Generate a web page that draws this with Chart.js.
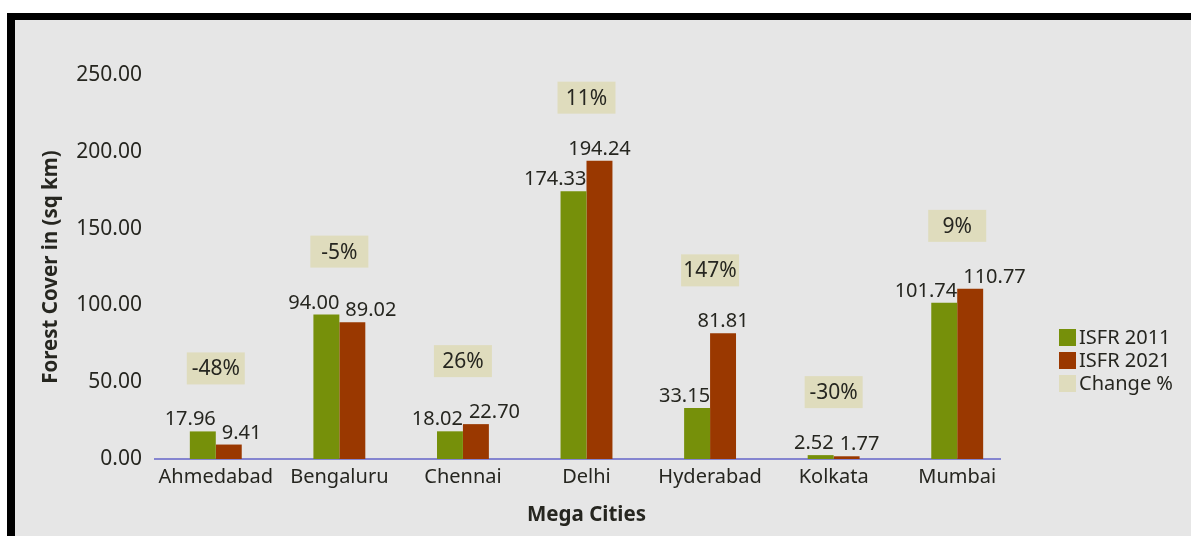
<!DOCTYPE html>
<html>
<head>
<meta charset="utf-8">
<script src="https://cdn.jsdelivr.net/npm/chart.js@4.4.1/dist/chart.umd.min.js"></script>
<style>
  html, body { margin: 0; padding: 0; background: #ffffff; }
  #frame {
    position: absolute; left: 7px; top: 13px;
    width: 1184px; height: 523px;
    border-left: 8px solid #000; border-top: 7px solid #000;
    background: #e6e6e6;
  }
  #wrap { position: absolute; left: 0; top: 0; width: 1176px; height: 516px; }
</style>
</head>
<body>
<div id="frame"><div id="wrap"><canvas id="chart"></canvas></div></div>
<script>
// データ
const cities = ["Ahmedabad", "Bengaluru", "Chennai", "Delhi", "Hyderabad", "Kolkata", "Mumbai"];
const isfr2011 = [17.96, 94.00, 18.02, 174.33, 33.15, 2.52, 101.74];
const isfr2021 = [9.41, 89.02, 22.70, 194.24, 81.81, 1.77, 110.77];
const changePct = ["-48%", "-5%", "26%", "11%", "147%", "-30%", "9%"];
const yTicks = [0, 50, 100, 150, 200, 250];

const GREEN = "#76900a";
const RED = "#9a3800";
const BOX = "#dfdcbd";
const TEXT = "#262620";
const FONT = "'Noto Sans', sans-serif";

// X軸の線（右端は少し短め）
const axisLinePlugin = {
  id: "axisLine",
  beforeDatasetsDraw(chart) {
    const { ctx, chartArea } = chart;
    ctx.save();
    ctx.strokeStyle = "#8585d0";
    ctx.lineWidth = 2;
    ctx.beginPath();
    ctx.moveTo(chartArea.left, chartArea.bottom);
    ctx.lineTo(chartArea.right - 18, chartArea.bottom);
    ctx.stroke();
    ctx.restore();
  }
};

// 数値ラベル・変化率ラベル・凡例を描画
const labelPlugin = {
  id: "labels",
  afterDatasetsDraw(chart) {
    const ctx = chart.ctx;
    const m0 = chart.getDatasetMeta(0).data;
    const m1 = chart.getDatasetMeta(1).data;
    ctx.save();
    ctx.font = "20px " + FONT;
    ctx.fillStyle = TEXT;
    ctx.textBaseline = "alphabetic";
    ctx.textAlign = "left";

    m0.forEach((g, i) => {
      const r = m1[i];
      const gText = isfr2011[i].toFixed(2);
      const rText = isfr2021[i].toFixed(2);
      const gw = ctx.measureText(gText).width;
      const rw = ctx.measureText(rText).width;
      const clash = Math.abs(r.y - g.y) < 22;

      // 緑：赤が高いか重なる場合は左へ寄せる
      let gLeft = g.x - gw / 2;
      if (clash || r.y < g.y) gLeft = Math.min(gLeft, g.x + g.width / 2 - gw);
      // 赤：重なる場合は右へ寄せる
      let rLeft = r.x - rw / 2;
      if (clash) rLeft = Math.max(rLeft, r.x - r.width / 2 + 6);

      ctx.fillText(gText, gLeft, g.y - 6);
      ctx.fillText(rText, rLeft, r.y - 6);
    });

    // 変化率ボックス
    ctx.font = "21px " + FONT;
    m0.forEach((bar, i) => {
      const other = m1[i];
      const cx = (bar.x + other.x) / 2;
      const cy = Math.min(bar.y, other.y) - 63;
      const w = 58;
      ctx.fillStyle = BOX;
      ctx.fillRect(cx - w / 2, cy - 16, w, 32);
      ctx.fillStyle = TEXT;
      ctx.textAlign = "center";
      ctx.textBaseline = "middle";
      ctx.fillText(changePct[i], cx, cy + 1);
    });

    // 凡例
    const items = [
      { text: "ISFR 2011", color: GREEN },
      { text: "ISFR 2021", color: RED },
      { text: "Change %", color: BOX },
    ];
    ctx.font = "20px " + FONT;
    const lx = chart.chartArea.right + 40;
    let ly = 309;
    ctx.textAlign = "left";
    ctx.textBaseline = "middle";
    items.forEach(it => {
      ctx.fillStyle = it.color;
      ctx.fillRect(lx, ly, 17, 17);
      ctx.fillStyle = TEXT;
      ctx.fillText(it.text, lx + 20, ly + 9);
      ly += 23;
    });
    ctx.restore();
  }
};

new Chart(document.getElementById("chart"), {
  type: "bar",
  data: {
    labels: cities,
    datasets: [
      { label: "ISFR 2011", data: isfr2011, backgroundColor: GREEN, categoryPercentage: 0.42, barPercentage: 1 },
      { label: "ISFR 2021", data: isfr2021, backgroundColor: RED, categoryPercentage: 0.42, barPercentage: 1 },
    ]
  },
  options: {
    responsive: true,
    maintainAspectRatio: false,
    animation: false,
    layout: { padding: { left: 15, right: 172, top: 55, bottom: 0 } },
    plugins: {
      legend: { display: false },
      tooltip: { enabled: false },
    },
    scales: {
      x: {
        grid: { display: false, drawTicks: false },
        border: { display: false },
        ticks: { color: TEXT, font: { family: FONT, size: 20 }, padding: 6 },
        title: { display: true, text: "Mega Cities", color: TEXT, font: { family: FONT, size: 20.5, weight: "bold" }, padding: { bottom: 9 } },
        afterFit(scale) { scale.height = 77; },
      },
      y: {
        min: 0,
        max: 250,
        afterBuildTicks(scale) { scale.ticks = yTicks.map(v => ({ value: v })); },
        grid: { display: false, drawTicks: false },
        border: { display: false },
        ticks: { color: TEXT, font: { family: FONT, size: 21 }, padding: 12, callback: v => v.toFixed(2) },
        title: { display: true, text: "Forest Cover in (sq km)", color: TEXT, font: { family: FONT, size: 20.5, weight: "bold" }, padding: { top: 9 } },
        afterFit(scale) { scale.width = 124; },
      }
    }
  },
  plugins: [axisLinePlugin, labelPlugin]
});
</script>
</body>
</html>
